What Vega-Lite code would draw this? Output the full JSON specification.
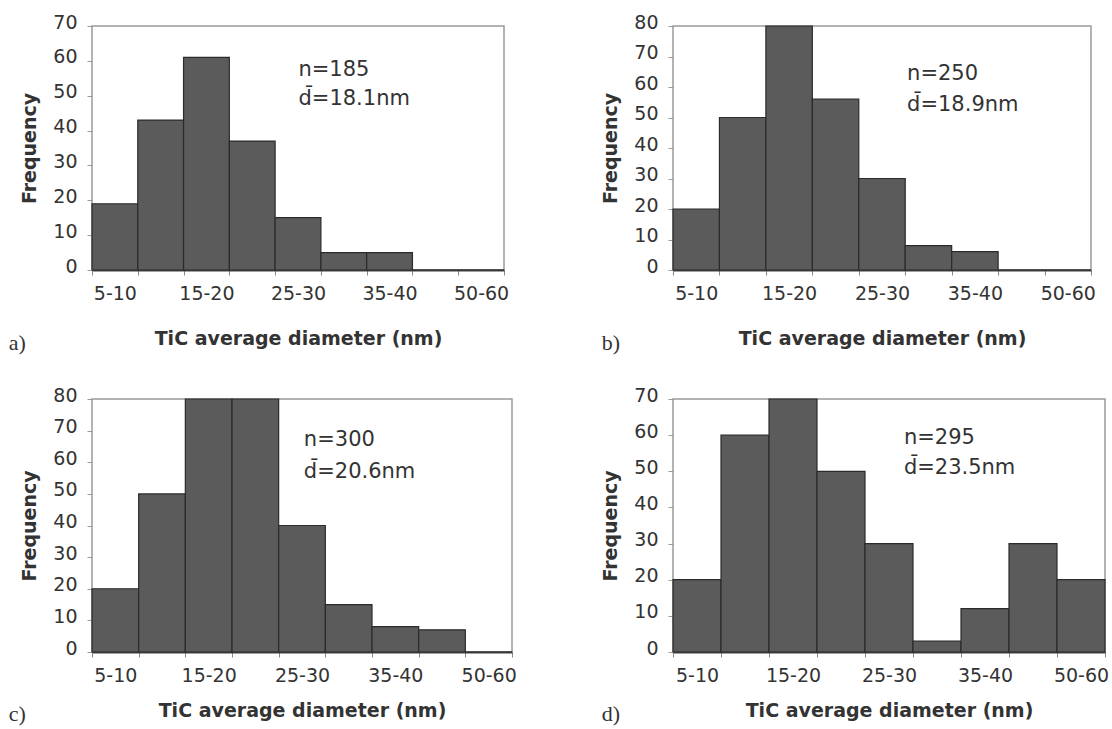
{
  "$schema": "https://vega.github.io/schema/vega-lite/v6.json",
  "padding": {"left": 8, "top": 12, "right": 0, "bottom": 0},
  "background": "white",
  "datasets": {
    "bars": [
      {"panel": "a", "bin": "5-10", "count": 19},
      {"panel": "a", "bin": "10-15", "count": 43},
      {"panel": "a", "bin": "15-20", "count": 61},
      {"panel": "a", "bin": "20-25", "count": 37},
      {"panel": "a", "bin": "25-30", "count": 15},
      {"panel": "a", "bin": "30-35", "count": 5},
      {"panel": "a", "bin": "35-40", "count": 5},
      {"panel": "a", "bin": "40-50", "count": 0},
      {"panel": "a", "bin": "50-60", "count": 0},
      {"panel": "b", "bin": "5-10", "count": 20},
      {"panel": "b", "bin": "10-15", "count": 50},
      {"panel": "b", "bin": "15-20", "count": 80},
      {"panel": "b", "bin": "20-25", "count": 56},
      {"panel": "b", "bin": "25-30", "count": 30},
      {"panel": "b", "bin": "30-35", "count": 8},
      {"panel": "b", "bin": "35-40", "count": 6},
      {"panel": "b", "bin": "40-50", "count": 0},
      {"panel": "b", "bin": "50-60", "count": 0},
      {"panel": "c", "bin": "5-10", "count": 20},
      {"panel": "c", "bin": "10-15", "count": 50},
      {"panel": "c", "bin": "15-20", "count": 80},
      {"panel": "c", "bin": "20-25", "count": 80},
      {"panel": "c", "bin": "25-30", "count": 40},
      {"panel": "c", "bin": "30-35", "count": 15},
      {"panel": "c", "bin": "35-40", "count": 8},
      {"panel": "c", "bin": "40-50", "count": 7},
      {"panel": "c", "bin": "50-60", "count": 0},
      {"panel": "d", "bin": "5-10", "count": 20},
      {"panel": "d", "bin": "10-15", "count": 60},
      {"panel": "d", "bin": "15-20", "count": 70},
      {"panel": "d", "bin": "20-25", "count": 50},
      {"panel": "d", "bin": "25-30", "count": 30},
      {"panel": "d", "bin": "30-35", "count": 3},
      {"panel": "d", "bin": "35-40", "count": 12},
      {"panel": "d", "bin": "40-50", "count": 30},
      {"panel": "d", "bin": "50-60", "count": 20}
    ],
    "notes": [
      {"panel": "a", "bin": "25-30", "count": 57.3, "label": "n=185"},
      {"panel": "a", "bin": "25-30", "count": 49, "label": "d\u0304=18.1nm"},
      {"panel": "b", "bin": "30-35", "count": 64.3, "label": "n=250"},
      {"panel": "b", "bin": "30-35", "count": 54.2, "label": "d\u0304=18.9nm"},
      {"panel": "c", "bin": "25-30", "count": 67, "label": "n=300"},
      {"panel": "c", "bin": "25-30", "count": 56.9, "label": "d\u0304=20.6nm"},
      {"panel": "d", "bin": "25-30", "count": 59.1, "label": "n=295"},
      {"panel": "d", "bin": "25-30", "count": 50.9, "label": "d\u0304=23.5nm"}
    ]
  },
  "config": {
    "view": {"stroke": "#9a9a9a", "strokeWidth": 1.5},
    "font": "DejaVu Sans",
    "axis": {
      "labelFont": "DejaVu Sans", "labelFontSize": 19, "labelColor": "#333",
      "titleFont": "DejaVu Sans", "titleFontSize": 19, "titleFontWeight": "bold", "titleColor": "#333",
      "grid": false
    },
    "axisX": {
      "labelAngle": 0, "tickBand": "extent", "domainColor": "#444", "domainWidth": 2,
      "tickColor": "#888", "tickSize": 5, "labelPadding": 9, "labelOverlap": false,
      "labelExpr": "indexof(['5-10','15-20','25-30','35-40','50-60'], datum.value) >= 0 ? datum.label : ''"
    },
    "axisY": {
      "domain": false, "tickColor": "#999", "tickSize": 5, "labelPadding": 10,
      "labelOffset": -4, "titlePadding": 13
    },
    "title": {"font": "Liberation Serif", "fontSize": 22, "fontWeight": "normal", "color": "#333"}
  },
  "spacing": 30,
  "vconcat": [
    {
      "spacing": 91,
      "hconcat": [
        {
          "width": 412, "height": 244,
          "title": {"text": "a)", "orient": "bottom", "anchor": "start", "frame": "bounds", "dx": -12, "offset": -15},
          "encoding": {
            "x": {"field": "bin", "type": "ordinal", "sort": null,
              "scale": {"domain": ["5-10","10-15","15-20","20-25","25-30","30-35","35-40","40-50","50-60"], "paddingInner": 0, "paddingOuter": 0},
              "axis": {"title": "TiC average diameter (nm)", "titlePadding": 26}},
            "y": {"field": "count", "type": "quantitative", "scale": {"domain": [0, 70], "nice": false},
              "axis": {"title": "Frequency", "values": [0,10,20,30,40,50,60,70]}}
          },
          "layer": [
            {
              "data": {"name": "bars"}, "transform": [{"filter": "datum.panel === 'a'"}],
              "mark": {"type": "bar", "fill": "#5b5b5b", "stroke": "#2b2b2b", "strokeWidth": 1.2}
            },
            {
              "data": {"name": "notes"}, "transform": [{"filter": "datum.panel === 'a'"}],
              "mark": {"type": "text", "align": "left", "baseline": "middle", "fontSize": 21, "color": "#333"},
              "encoding": {
                "x": {"field": "bin", "type": "ordinal", "sort": null, "bandPosition": 0.51},
                "text": {"field": "label"}
              }
            }
          ]
        },
        {
          "width": 418, "height": 244,
          "title": {"text": "b)", "orient": "bottom", "anchor": "start", "frame": "bounds", "dx": 0, "offset": -15},
          "encoding": {
            "x": {"field": "bin", "type": "ordinal", "sort": null,
              "scale": {"domain": ["5-10","10-15","15-20","20-25","25-30","30-35","35-40","40-50","50-60"], "paddingInner": 0, "paddingOuter": 0},
              "axis": {"title": "TiC average diameter (nm)", "titlePadding": 26}},
            "y": {"field": "count", "type": "quantitative", "scale": {"domain": [0, 80], "nice": false},
              "axis": {"title": "Frequency", "values": [0,10,20,30,40,50,60,70,80]}}
          },
          "layer": [
            {
              "data": {"name": "bars"}, "transform": [{"filter": "datum.panel === 'b'"}],
              "mark": {"type": "bar", "fill": "#5b5b5b", "stroke": "#2b2b2b", "strokeWidth": 1.2}
            },
            {
              "data": {"name": "notes"}, "transform": [{"filter": "datum.panel === 'b'"}],
              "mark": {"type": "text", "align": "left", "baseline": "middle", "fontSize": 21, "color": "#333"},
              "encoding": {
                "x": {"field": "bin", "type": "ordinal", "sort": null, "bandPosition": 0.04},
                "text": {"field": "label"}
              }
            }
          ]
        }
      ]
    },
    {
      "spacing": 83,
      "hconcat": [
        {
          "width": 420, "height": 253,
          "title": {"text": "c)", "orient": "bottom", "anchor": "start", "frame": "bounds", "dx": -12, "offset": -16},
          "encoding": {
            "x": {"field": "bin", "type": "ordinal", "sort": null,
              "scale": {"domain": ["5-10","10-15","15-20","20-25","25-30","30-35","35-40","40-50","50-60"], "paddingInner": 0, "paddingOuter": 0},
              "axis": {"title": "TiC average diameter (nm)", "titlePadding": 16}},
            "y": {"field": "count", "type": "quantitative", "scale": {"domain": [0, 80], "nice": false},
              "axis": {"title": "Frequency", "values": [0,10,20,30,40,50,60,70,80]}}
          },
          "layer": [
            {
              "data": {"name": "bars"}, "transform": [{"filter": "datum.panel === 'c'"}],
              "mark": {"type": "bar", "fill": "#5b5b5b", "stroke": "#2b2b2b", "strokeWidth": 1.2}
            },
            {
              "data": {"name": "notes"}, "transform": [{"filter": "datum.panel === 'c'"}],
              "mark": {"type": "text", "align": "left", "baseline": "middle", "fontSize": 21, "color": "#333"},
              "encoding": {
                "x": {"field": "bin", "type": "ordinal", "sort": null, "bandPosition": 0.54},
                "text": {"field": "label"}
              }
            }
          ]
        },
        {
          "width": 432, "height": 253,
          "title": {"text": "d)", "orient": "bottom", "anchor": "start", "frame": "bounds", "dx": 0, "offset": -16},
          "encoding": {
            "x": {"field": "bin", "type": "ordinal", "sort": null,
              "scale": {"domain": ["5-10","10-15","15-20","20-25","25-30","30-35","35-40","40-50","50-60"], "paddingInner": 0, "paddingOuter": 0},
              "axis": {"title": "TiC average diameter (nm)", "titlePadding": 16}},
            "y": {"field": "count", "type": "quantitative", "scale": {"domain": [0, 70], "nice": false},
              "axis": {"title": "Frequency", "values": [0,10,20,30,40,50,60,70]}}
          },
          "layer": [
            {
              "data": {"name": "bars"}, "transform": [{"filter": "datum.panel === 'd'"}],
              "mark": {"type": "bar", "fill": "#5b5b5b", "stroke": "#2b2b2b", "strokeWidth": 1.2}
            },
            {
              "data": {"name": "notes"}, "transform": [{"filter": "datum.panel === 'd'"}],
              "mark": {"type": "text", "align": "left", "baseline": "middle", "fontSize": 21, "color": "#333"},
              "encoding": {
                "x": {"field": "bin", "type": "ordinal", "sort": null, "bandPosition": 0.81},
                "text": {"field": "label"}
              }
            }
          ]
        }
      ]
    }
  ]
}
